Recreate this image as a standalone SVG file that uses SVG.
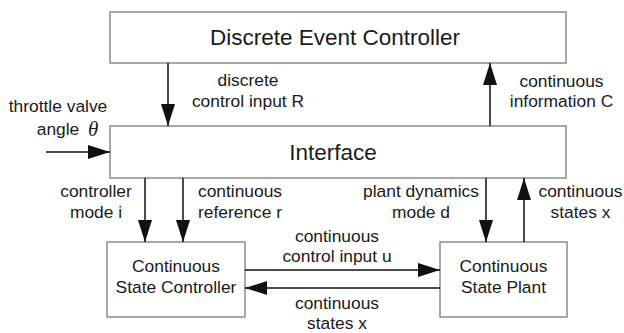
<svg xmlns="http://www.w3.org/2000/svg" width="624" height="333" viewBox="0 0 624 333">
<style>
.box{fill:#fff;stroke:#8c8c8c;stroke-width:1.5}
.big{font-family:"Liberation Sans",Arial,sans-serif;font-size:22.5px;fill:#1a1a1a;text-anchor:middle}
.lbl{font-family:"Liberation Sans",Arial,sans-serif;font-size:17.4px;fill:#1a1a1a;text-anchor:middle}
.cn{stroke:#111;stroke-width:1.5;fill:none;marker-end:url(#ah)}
.th{font-family:"Liberation Serif","Times New Roman",serif;font-style:italic;font-size:21px;fill:#1a1a1a}
</style>
<defs>
<marker id="ah" markerUnits="userSpaceOnUse" markerWidth="22" markerHeight="14" refX="22" refY="7" orient="auto">
<path d="M0,0 L22,7 L0,14 z" fill="#111"/>
</marker>
</defs>
<rect width="624" height="333" fill="#fff"/>
<g id="dec">
<rect class="box" x="110" y="12" width="456" height="51"/>
<text class="big" x="335" y="45">Discrete Event Controller</text>
</g>
<g id="interface">
<rect class="box" x="110" y="126" width="456" height="52"/>
<text class="big" x="333" y="159.5">Interface</text>
</g>
<g id="csc">
<rect class="box" x="107" y="242" width="138" height="75"/>
<text class="lbl" x="176" y="272">Continuous</text>
<text class="lbl" x="176" y="293">State Controller</text>
</g>
<g id="csp">
<rect class="box" x="440" y="242" width="127" height="75"/>
<text class="lbl" x="503.5" y="272">Continuous</text>
<text class="lbl" x="503.5" y="293">State Plant</text>
</g>
<g id="connectors">
<line class="cn" x1="168" y1="63" x2="168" y2="126"/>
<line class="cn" x1="490" y1="126" x2="490" y2="63"/>
<line class="cn" x1="46" y1="152" x2="110" y2="152"/>
<line class="cn" x1="145" y1="178" x2="145" y2="242"/>
<line class="cn" x1="183" y1="178" x2="183" y2="242"/>
<line class="cn" x1="486" y1="178" x2="486" y2="242"/>
<line class="cn" x1="524" y1="242" x2="524" y2="178"/>
<line class="cn" x1="245" y1="270" x2="440" y2="270"/>
<line class="cn" x1="440" y1="288" x2="245" y2="288"/>
</g>
<g id="labels">
<text class="lbl" x="248" y="86">discrete</text>
<text class="lbl" x="248" y="107">control input R</text>
<text class="lbl" x="561.5" y="87">continuous</text>
<text class="lbl" x="561.5" y="107">information C</text>
<text class="lbl" x="58" y="112">throttle valve</text>
<text class="lbl" x="58" y="135">angle</text>
<text class="th" x="88" y="136">θ</text>
<text class="lbl" x="96" y="197">controller</text>
<text class="lbl" x="96" y="218">mode i</text>
<text class="lbl" x="240" y="197">continuous</text>
<text class="lbl" x="240" y="218">reference  r</text>
<text class="lbl" x="421" y="197">plant dynamics</text>
<text class="lbl" x="421" y="218">mode d</text>
<text class="lbl" x="580.5" y="197">continuous</text>
<text class="lbl" x="580.5" y="218">states x</text>
<text class="lbl" x="337" y="242">continuous</text>
<text class="lbl" x="337" y="262">control input u</text>
<text class="lbl" x="337" y="309">continuous</text>
<text class="lbl" x="337" y="329">states x</text>
</g>
</svg>
